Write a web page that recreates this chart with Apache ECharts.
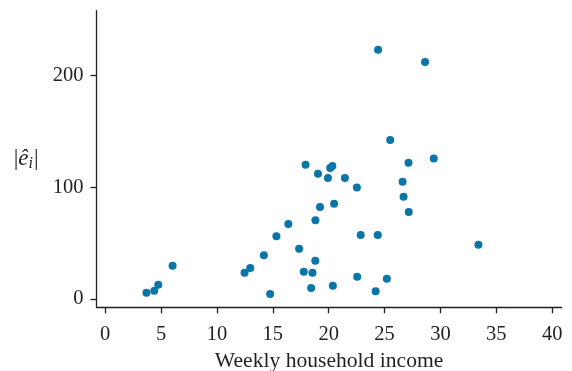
<!DOCTYPE html>
<html>
<head>
<meta charset="utf-8">
<script src="https://cdn.jsdelivr.net/npm/echarts@6/dist/echarts.min.js"></script>
<style>html,body{margin:0;padding:0;background:#fff}#c{width:572px;height:371px}</style>
</head>
<body>
<div id="c"></div>
<script>
var income = [3.69,4.39,4.75,6.03,12.47,12.98,14.2,14.76,15.32,16.39,17.35,17.77,17.93,18.43,18.55,18.8,18.81,19.04,19.22,19.93,20.13,20.33,20.37,20.48,21.45,22.52,22.55,22.86,24.2,24.39,24.42,25.2,25.5,26.61,26.7,27.14,27.16,28.62,29.4,33.4];
var absResid = [5.6,7.4,12.8,29.8,23.5,27.7,39.1,4.5,56.1,67.1,45.0,24.4,120.1,9.8,23.5,34.3,70.4,112.1,82.3,108.2,117.2,119.0,11.9,85.2,108.2,99.9,20.0,57.2,6.9,57.2,223.0,18.2,142.2,104.9,91.5,121.9,77.8,212.0,125.8,48.6];
var xTicks = [0,5,10,15,20,25,30,35,40];
var yTicks = [0,100,200];

var points = income.map(function(v,i){return [v, absResid[i]];});
var chart = echarts.init(document.getElementById('c'));
var font = 'Liberation Serif';
var axisColor = '#231f20';
chart.setOption({
  animation:false,
  backgroundColor:'#fff',
  grid:{left:96.5,right:10.3,top:10.7,bottom:63.7,containLabel:false,outerBoundsMode:'none'},
  xAxis:{
    type:'value', min:-0.78, max:40.85,
    name:'Weekly household income', nameLocation:'middle', nameGap:39,
    nameTextStyle:{fontFamily:font,fontSize:21.6,color:axisColor},
    axisLine:{show:true,onZero:false,lineStyle:{color:axisColor,width:1.3}},
    axisTick:{show:true,length:6,lineStyle:{color:axisColor,width:1.3},customValues:xTicks},
    axisLabel:{fontFamily:font,fontSize:20.5,color:axisColor,margin:17,customValues:xTicks},
    splitLine:{show:false}
  },
  yAxis:{
    type:'value', min:-7.4, max:258,
    name:'{a||}{e|ê}{s|i}{a||}', nameLocation:'middle', nameRotate:0, nameGap:58,
    nameTextStyle:{fontFamily:font,fontSize:23,color:axisColor,align:'right',
      rich:{a:{fontFamily:font,fontSize:23,color:axisColor},
            e:{fontFamily:font,fontSize:23,fontStyle:'italic',color:axisColor},
            s:{fontFamily:font,fontSize:16,fontStyle:'italic',color:axisColor,verticalAlign:'bottom',padding:[9,1,0,0]}}},
    axisLine:{show:true,onZero:false,lineStyle:{color:axisColor,width:1.3}},
    axisTick:{show:true,length:6,lineStyle:{color:axisColor,width:1.3},customValues:yTicks},
    axisLabel:{fontFamily:font,fontSize:20.5,color:axisColor,margin:13,customValues:yTicks},
    splitLine:{show:false}
  },
  series:[{
    type:'scatter', data:points, symbol:'circle', symbolSize:8,
    itemStyle:{color:'#0a75a8',opacity:1}
  }]
});
</script>
</body>
</html>
